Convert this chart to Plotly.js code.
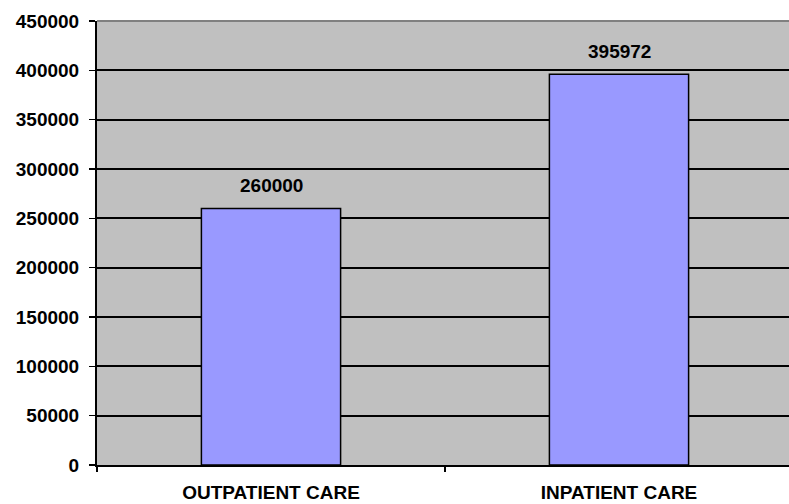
<!DOCTYPE html>
<html><head><meta charset="utf-8">
<script src="https://cdn.plot.ly/plotly-3.0.1.min.js"></script>
<style>html,body{margin:0;padding:0;overflow:hidden;background:#fff}#c{width:793px;height:504px}</style>
</head><body><div id="c"></div>
<script>
const categories = ["OUTPATIENT CARE", "INPATIENT CARE"];
const values = [260000, 395972];
const yTicks = [0, 50000, 100000, 150000, 200000, 250000, 300000, 350000, 400000, 450000];

const FONT = {family: 'Liberation Sans, Arial', size: 19, color: '#000', weight: 700};
const trace = {
  type: 'bar', x: categories, y: values, width: 0.4,
  marker: {color: '#9999FF', line: {color: '#000000', width: 1.5}},
  hoverinfo: 'none'
};
const annotations = categories.map((c, i) => ({
  x: c, y: values[i], text: '<b>' + String(values[i]) + '</b>', showarrow: false,
  yanchor: 'bottom', yshift: 10, font: FONT
}));
const layout = {
  width: 793, height: 504,
  margin: {l: 97, r: 0, t: 21, b: 39},
  paper_bgcolor: '#ffffff', plot_bgcolor: '#C0C0C0',
  showlegend: false,
  font: FONT,
  xaxis: {
    type: 'category', tickson: 'boundaries', ticks: 'outside', ticklen: 5, tickwidth: 1.5, tickcolor: '#000',
    showline: true, linecolor: '#000', linewidth: 2, showgrid: false, zeroline: false,
    tickmode: 'array', tickvals: categories, ticktext: categories.map(c => '<b>' + c + '</b>'),
    ticklabelstandoff: 9, tickfont: FONT
  },
  yaxis: {
    range: [0, 450000], tickmode: 'array', tickvals: yTicks, ticktext: yTicks.map(v => '<b>' + v + '</b>'),
    ticks: 'outside', ticklen: 6, tickwidth: 1.5, tickcolor: '#000',
    showline: true, linecolor: '#000', linewidth: 2,
    showgrid: true, gridcolor: '#000', gridwidth: 2, zeroline: false,
    ticklabelstandoff: 6, tickfont: FONT
  },
  shapes: [{type: 'line', xref: 'paper', yref: 'paper', x0: 0, x1: 1, y0: 1, y1: 1, line: {color: '#808080', width: 2}}],
  annotations: annotations
};
Plotly.newPlot('c', [trace], layout, {displayModeBar: false, staticPlot: true});
</script></body></html>
